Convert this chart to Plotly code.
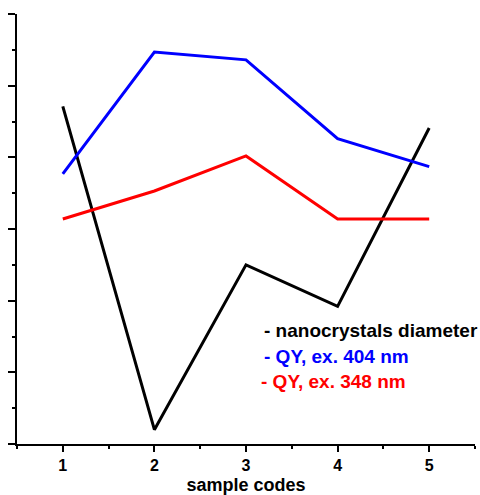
import plotly.graph_objects as go

# sample codes on the x axis
samples = [1, 2, 3, 4, 5]

# series values (arbitrary units, left axis carries no numbers)
diameter = [4.71, 0.20, 2.50, 1.92, 4.41]
qy_404 = [3.77, 5.47, 5.36, 4.26, 3.87]
qy_348 = [3.14, 3.53, 4.02, 3.14, 3.14]

x_ticks = [1, 2, 3, 4, 5]
x_ticktext = ["1", "2", "3", "4", "5"]

legend_labels = ["- nanocrystals diameter", "- QY, ex. 404 nm", "- QY, ex. 348 nm"]

FONT = "Liberation Sans, Arial, sans-serif"

fig = go.Figure()
fig.add_trace(go.Scatter(x=samples, y=diameter, mode="lines",
                         line=dict(color="#000000", width=3)))
fig.add_trace(go.Scatter(x=samples, y=qy_404, mode="lines",
                         line=dict(color="#0000ff", width=3)))
fig.add_trace(go.Scatter(x=samples, y=qy_348, mode="lines",
                         line=dict(color="#ff0000", width=3)))

# in-plot legend text
label_pos = [(3.17, 1.58, "#000000"), (3.17, 1.22, "#0000ff"), (3.14, 0.87, "#ff0000")]
for text, (lx, ly, col) in zip(legend_labels, label_pos):
    fig.add_annotation(x=lx, y=ly, xref="x", yref="y", text=text, showarrow=False,
                       xanchor="left", yanchor="middle",
                       font=dict(family=FONT, size=19, color=col, weight="bold"))

fig.update_layout(
    width=480, height=495,
    margin=dict(l=17, r=5, t=14, b=51),
    paper_bgcolor="white", plot_bgcolor="white",
    showlegend=False,
    xaxis=dict(
        range=[0.5, 5.5], tickvals=x_ticks, ticktext=x_ticktext,
        automargin=False,
        showgrid=False, zeroline=False,
        showline=True, linecolor="black", linewidth=2,
        ticks="outside", ticklen=6, tickwidth=1.5, tickcolor="black",
        minor=dict(ticks="outside", ticklen=3, tickwidth=1.5, tickcolor="black",
                   dtick=0.5, tick0=0.5, showgrid=False),
        tickfont=dict(family=FONT, size=16, color="black", weight="bold"),
        title=dict(text="sample codes", standoff=8,
                   font=dict(family=FONT, size=18, color="black", weight="bold")),
    ),
    yaxis=dict(
        range=[0, 6], dtick=1, tick0=0, automargin=False,
        showgrid=False, zeroline=False, showticklabels=False,
        showline=True, linecolor="black", linewidth=2,
        ticks="outside", ticklen=7, tickwidth=1.5, tickcolor="black",
        minor=dict(ticks="outside", ticklen=3, tickwidth=1.5, tickcolor="black",
                   dtick=0.5, showgrid=False),
    ),
)

fig.write_html("out.html")
